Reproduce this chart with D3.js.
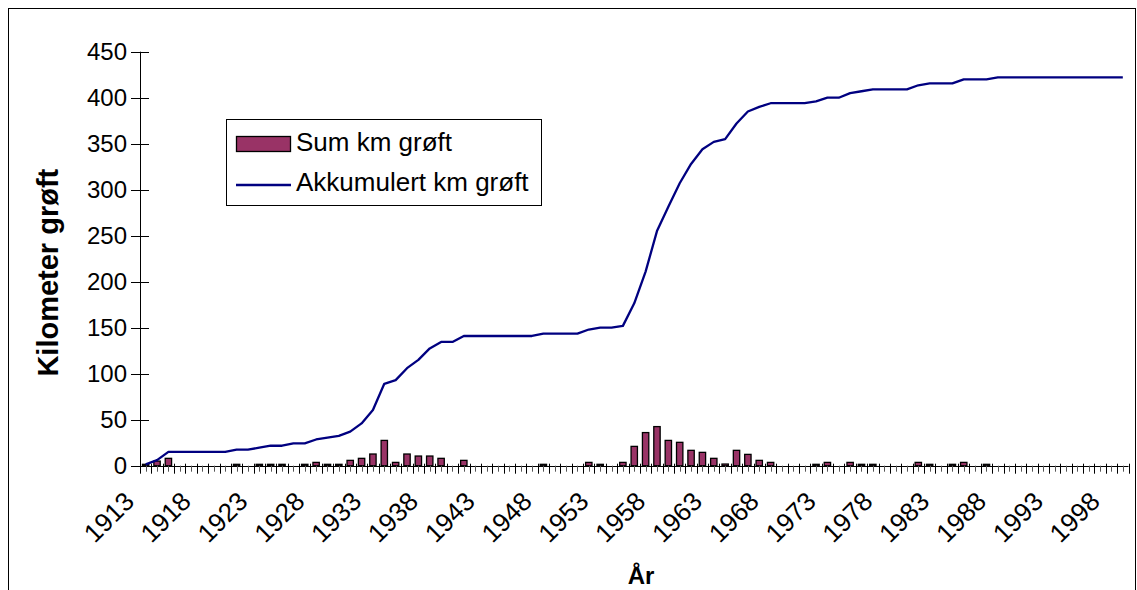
<!DOCTYPE html>
<meta charset="utf-8">
<html>
<head>
<script src="https://cdn.jsdelivr.net/npm/d3@7/dist/d3.min.js"></script>
<style>
  body { margin: 0; background: #fff; }
  text { font-family: Arial, "Liberation Sans", sans-serif; fill: #000; }
</style>
</head>
<body>
<div id="chart"></div>
<script>
// categories: one per year
var years = [
  1913, 1914, 1915, 1916, 1917, 1918, 1919, 1920, 1921, 1922,
  1923, 1924, 1925, 1926, 1927, 1928, 1929, 1930, 1931, 1932,
  1933, 1934, 1935, 1936, 1937, 1938, 1939, 1940, 1941, 1942,
  1943, 1944, 1945, 1946, 1947, 1948, 1949, 1950, 1951, 1952,
  1953, 1954, 1955, 1956, 1957, 1958, 1959, 1960, 1961, 1962,
  1963, 1964, 1965, 1966, 1967, 1968, 1969, 1970, 1971, 1972,
  1973, 1974, 1975, 1976, 1977, 1978, 1979, 1980, 1981, 1982,
  1983, 1984, 1985, 1986, 1987, 1988, 1989, 1990, 1991, 1992,
  1993, 1994, 1995, 1996, 1997, 1998, 1999
];

// Sum km grøft (bars)
var sumKm = [
  1.5, 5, 8, 0, 0, 0, 0, 0, 1.5, 0,
  1.5, 1.5, 1.5, 0, 1.5, 3.6, 1.5, 1.5, 5.8, 8,
  12.7, 27.5, 3.6, 12.7, 10.5, 10.5, 8, 0, 5.8, 0,
  0, 0, 0, 0, 0, 1.5, 0, 0, 0, 3.6,
  1.5, 0, 3.6, 21, 36, 42.5, 27.5, 25.4, 16.7, 14.5,
  8, 1.8, 16.7, 12.3, 5.8, 3.6, 0, 0, 0, 1.5,
  3.6, 0, 3.6, 1.5, 1.5, 0, 0, 0, 3.6, 1.5,
  0, 1.5, 3.6, 0, 1.5, 0, 0, 0, 0, 0,
  0, 0, 0, 0, 0, 0, 0
];

// Akkumulert km grøft (line)
var akkKm = [
  1.5, 6, 15, 15, 15, 15, 15, 15, 17.4, 17.4,
  19.6, 21.7, 21.7, 24.3, 24.3, 28.5, 30.5, 32.5, 37, 46,
  60.5, 89, 93, 106, 115, 127.5, 134.5, 134.5, 141, 141,
  141, 141, 141, 141, 141, 143.5, 143.5, 143.5, 143.5, 148,
  150, 150, 152, 176.5, 211, 255, 281.5, 307, 328, 344,
  352, 355, 372, 385, 390, 394, 394, 394, 394, 396,
  400, 400, 405, 407, 409, 409, 409, 409, 413.5, 415.5,
  415.5, 415.5, 420, 420, 420, 422, 422, 422, 422, 422,
  422, 422, 422, 422, 422, 422, 422
];

var xLabels = ["1913", "1918", "1923", "1928", "1933", "1938", "1943", "1948", "1953",
               "1958", "1963", "1968", "1973", "1978", "1983", "1988", "1993", "1998"];
var yTicks = [0, 50, 100, 150, 200, 250, 300, 350, 400, 450];
var seriesNames = ["Sum km grøft", "Akkumulert km grøft"];

var W = 1137, H = 590;
var plot = {left: 140, right: 1128.5, top: 51.7, bottom: 465.7};

var svg = d3.select("#chart").append("svg")
    .attr("width", W).attr("height", H);

svg.append("rect").attr("width", W).attr("height", H).attr("fill", "#fff");

// outer chart frame
svg.append("rect")
    .attr("x", 8.5).attr("y", 8.5)
    .attr("width", 1127).attr("height", 620)
    .attr("fill", "none").attr("stroke", "#000").attr("stroke-width", 1);

var x = d3.scaleBand().domain(years).range([plot.left, plot.right]).paddingInner(0).paddingOuter(0);
var y = d3.scaleLinear().domain([0, 450]).range([plot.bottom, plot.top]);
var bw = x.bandwidth();

// bars
var barW = bw * 0.56;
svg.append("g").selectAll("rect")
    .data(years.map(function(d, i) { return {year: d, v: sumKm[i]}; }).filter(function(d) { return d.v > 0; }))
    .enter().append("rect")
    .attr("x", function(d) { return x(d.year) + (bw - barW) / 2; })
    .attr("y", function(d) { return y(d.v); })
    .attr("width", barW)
    .attr("height", function(d) { return y(0) - y(d.v); })
    .attr("fill", "#993366")
    .attr("stroke", "#000")
    .attr("stroke-width", 1.3);

// line
var line = d3.line()
    .x(function(d, i) { return x(years[i]) + bw / 2; })
    .y(function(d) { return y(d); });
svg.append("path")
    .datum(akkKm)
    .attr("d", line)
    .attr("fill", "none")
    .attr("stroke", "#000080")
    .attr("stroke-width", 2.3)
    .attr("stroke-linejoin", "round");

// y axis
var yAxis = svg.append("g").attr("transform", "translate(" + plot.left + ",0)");
yAxis.append("line").attr("x1", 0.5).attr("x2", 0.5).attr("y1", plot.top).attr("y2", plot.bottom)
    .attr("stroke", "#000");
yAxis.selectAll(".yt").data(yTicks).enter().append("line")
    .attr("x1", -9).attr("x2", 9)
    .attr("y1", function(d) { return Math.round(y(d)) + 0.5; })
    .attr("y2", function(d) { return Math.round(y(d)) + 0.5; })
    .attr("stroke", "#000");
yAxis.selectAll(".yl").data(yTicks).enter().append("text")
    .attr("x", -13)
    .attr("y", function(d) { return y(d); })
    .attr("dy", "0.36em")
    .attr("text-anchor", "end")
    .style("font-size", "24px")
    .text(function(d) { return d; });

// x axis
var xAxis = svg.append("g");
xAxis.append("line").attr("x1", plot.left).attr("x2", plot.right)
    .attr("y1", Math.round(plot.bottom) + 0.5).attr("y2", Math.round(plot.bottom) + 0.5)
    .attr("stroke", "#000");
// ticks at band edges and band centres
var edges = years.map(function(d) { return x(d); }).concat([plot.right]);
xAxis.selectAll(".xe").data(edges).enter().append("line")
    .attr("x1", function(d) { return Math.round(d) + 0.5; })
    .attr("x2", function(d) { return Math.round(d) + 0.5; })
    .attr("y1", plot.bottom - 2).attr("y2", plot.bottom + 8)
    .attr("stroke", "#000");
xAxis.selectAll(".xc").data(years).enter().append("line")
    .attr("x1", function(d) { return Math.round(x(d) + bw / 2) + 0.5; })
    .attr("x2", function(d) { return Math.round(x(d) + bw / 2) + 0.5; })
    .attr("y1", plot.bottom).attr("y2", plot.bottom + 6)
    .attr("stroke", "#555");
xAxis.selectAll(".xl").data(xLabels).enter().append("text")
    .attr("transform", function(d) {
      return "translate(" + (x(+d) + bw / 2 - 10) + "," + 503 + ") rotate(-45)";
    })
    .attr("text-anchor", "end")
    .style("font-size", "26px")
    .text(function(d) { return d; });

// axis titles
svg.append("text")
    .attr("transform", "translate(58," + ((plot.top + plot.bottom) / 2 + 14) + ") rotate(-90)")
    .attr("text-anchor", "middle")
    .style("font-size", "29px").style("font-weight", "bold")
    .text("Kilometer grøft");
svg.append("text")
    .attr("x", 641).attr("y", 584)
    .attr("text-anchor", "middle")
    .style("font-size", "24px").style("font-weight", "bold")
    .text("År");

// legend
var lg = svg.append("g");
lg.append("rect").attr("x", 226.5).attr("y", 119.5).attr("width", 315).attr("height", 86)
    .attr("fill", "#fff").attr("stroke", "#000");
lg.append("rect").attr("x", 236.5).attr("y", 136.5).attr("width", 54).attr("height", 15)
    .attr("fill", "#993366").attr("stroke", "#000").attr("stroke-width", 1.3);
lg.append("line").attr("x1", 236).attr("x2", 291).attr("y1", 185).attr("y2", 185)
    .attr("stroke", "#000080").attr("stroke-width", 2.3);
lg.selectAll(".lt").data(seriesNames).enter().append("text")
    .attr("x", 296)
    .attr("y", function(d, i) { return 151 + i * 40; })
    .style("font-size", "26px")
    .text(function(d) { return d; });
</script>
</body>
</html>
